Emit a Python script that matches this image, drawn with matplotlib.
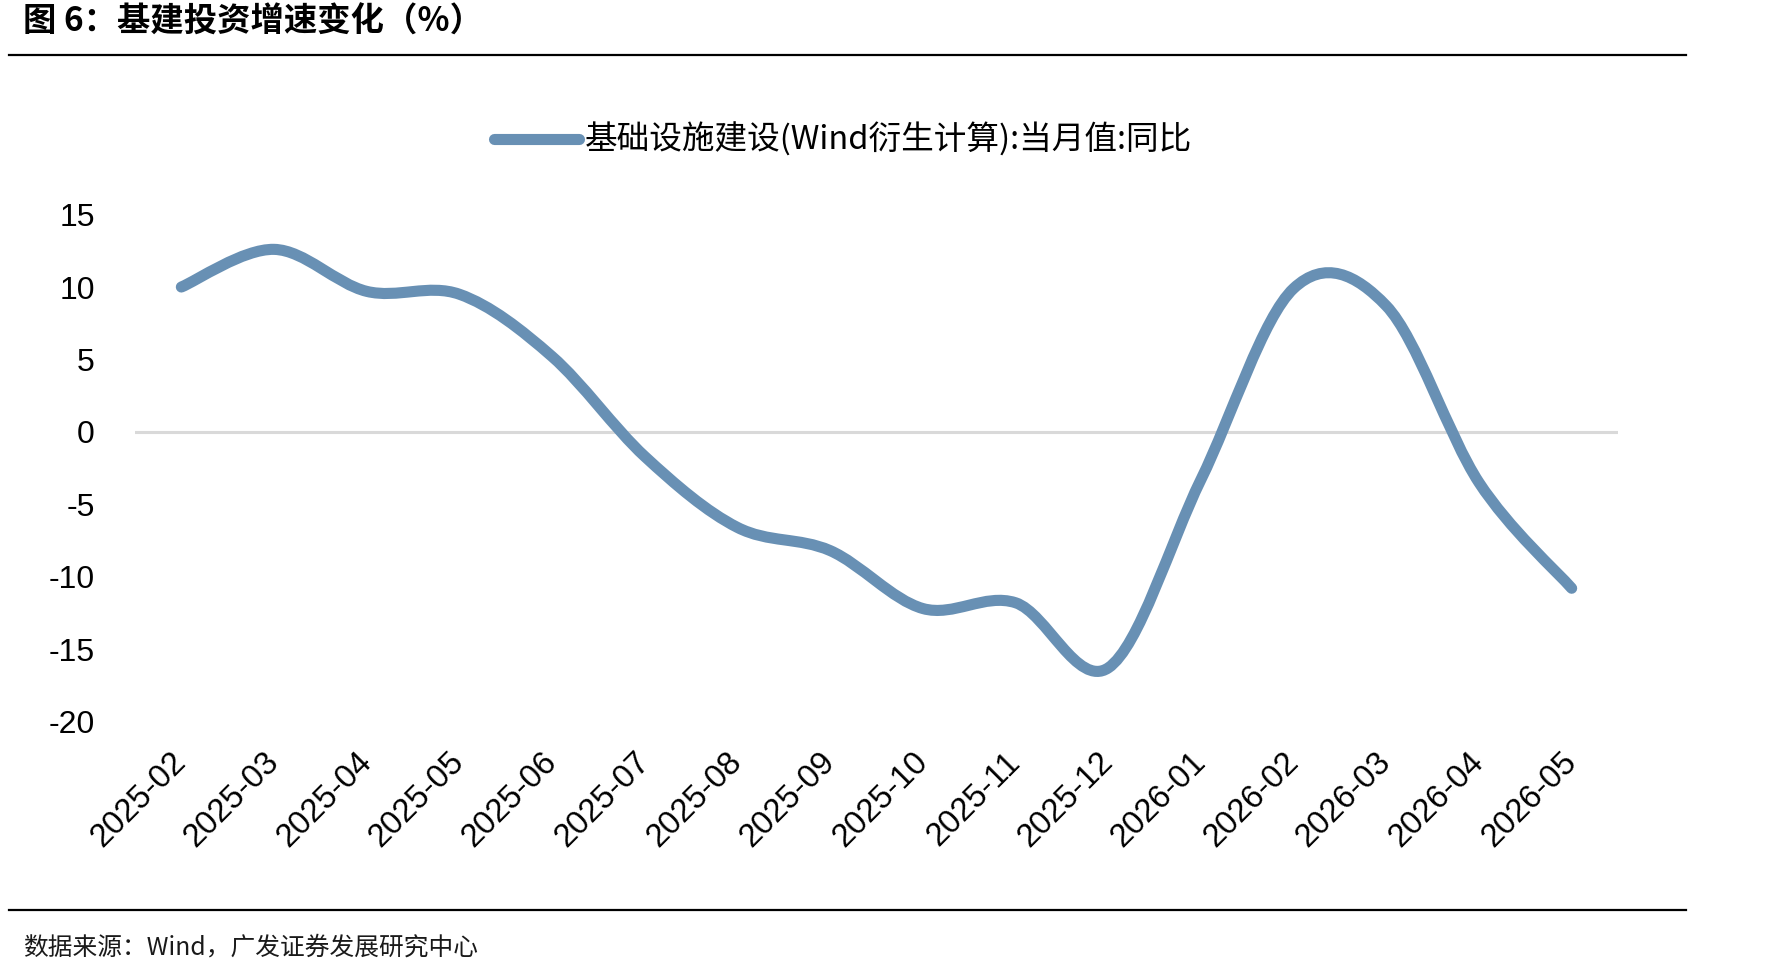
import matplotlib
matplotlib.use('Agg')
import matplotlib.pyplot as plt
from matplotlib.path import Path
from matplotlib.patches import PathPatch
from matplotlib.lines import Line2D
import numpy as np

# ---------------- data ----------------
months = ['2025-02', '2025-03', '2025-04', '2025-05', '2025-06', '2025-07',
          '2025-08', '2025-09', '2025-10', '2025-11', '2025-12', '2026-01',
          '2026-02', '2026-03', '2026-04', '2026-05']
values = [10.0, 12.6, 9.7, 9.5, 5.2, -1.7, -6.6, -8.2, -12.2, -11.8, -16.3,
          -3.3, 9.9, 8.7, -3.5, -10.8]
yticks = [15, 10, 5, 0, -5, -10, -15, -20]
series_name = '基础设施建设(Wind衍生计算):当月值:同比'
title_text = '图 6：基建投资增速变化（%）'
source_text = '数据来源：Wind，广发证券发展研究中心'

LINE_COLOR = '#6890B4'
CJK = ['Noto Sans CJK SC', 'DejaVu Sans']
LAT = ['Liberation Sans', 'DejaVu Sans']

W, H = 1790, 977
fig = plt.figure(figsize=(W / 100, H / 100), dpi=100)
fig.patch.set_facecolor('white')

ax_left, ax_right = 135 / W, 1618 / W
ax_top, ax_bot = 1 - 214.6 / H, 1 - 721.5 / H
ax = fig.add_axes([ax_left, ax_bot, ax_right - ax_left, ax_top - ax_bot])

x = np.arange(len(values), dtype=float)
y = np.array(values, dtype=float)

# smoothed line (Catmull-Rom style Bezier through the data points, like Excel's smoothing)
verts = [(x[0], y[0])]
codes = [Path.MOVETO]
n = len(x)
for i in range(n - 1):
    p0 = np.array([x[max(i - 1, 0)], y[max(i - 1, 0)]])
    p1 = np.array([x[i], y[i]])
    p2 = np.array([x[i + 1], y[i + 1]])
    p3 = np.array([x[min(i + 2, n - 1)], y[min(i + 2, n - 1)]])
    c1 = p1 + (p2 - p0) / 6.0
    c2 = p2 - (p3 - p1) / 6.0
    verts += [tuple(c1), tuple(c2), tuple(p2)]
    codes += [Path.CURVE4, Path.CURVE4, Path.CURVE4]
path = Path(verts, codes)
patch = PathPatch(path, facecolor='none', edgecolor=LINE_COLOR, lw=8,
                  capstyle='round', joinstyle='round', zorder=3)
ax.add_patch(patch)

ax.axhline(0, color='#d9d9d9', lw=2.2, zorder=1)

ax.set_xlim(-0.5, len(values) - 0.5)
ax.set_ylim(-20, 15)
ax.set_yticks(yticks)
ax.set_yticklabels([str(v) for v in yticks], fontsize=23, family=LAT)
ax.set_xticks(x)
ax.set_xticklabels(months, fontsize=23.5, family=LAT, rotation=45,
                   ha='right', va='center', rotation_mode='anchor')
ax.tick_params(axis='both', length=0, colors='black')
ax.tick_params(axis='y', pad=29)
ax.tick_params(axis='x', pad=26)
for s in ax.spines.values():
    s.set_visible(False)
ax.patch.set_alpha(0)

# legend
handle = Line2D([], [], color=LINE_COLOR, lw=8, solid_capstyle='round')
fig.legend([handle], [series_name], loc='center', bbox_to_anchor=(843 / W, 1 - 140 / H),
           frameon=False, prop={'family': CJK, 'size': 23.5}, handlelength=2.6,
           handletextpad=0.2, borderpad=0)

# title and rules
fig.text(23 / W, 1 - 22 / H, title_text, fontsize=24, fontweight='bold',
         family=CJK, ha='left', va='center')
fig.add_artist(Line2D([9 / W, 1686 / W], [1 - 55 / H] * 2, color='black', lw=1.6,
                      transform=fig.transFigure))
fig.add_artist(Line2D([9 / W, 1686 / W], [1 - 910 / H] * 2, color='black', lw=1.6,
                      transform=fig.transFigure))
fig.text(23 / W, 1 - 948 / H, source_text, fontsize=17.8, family=CJK,
         ha='left', va='center', color='#1a1a1a')

fig.savefig('out.png', dpi=100, facecolor='white')
